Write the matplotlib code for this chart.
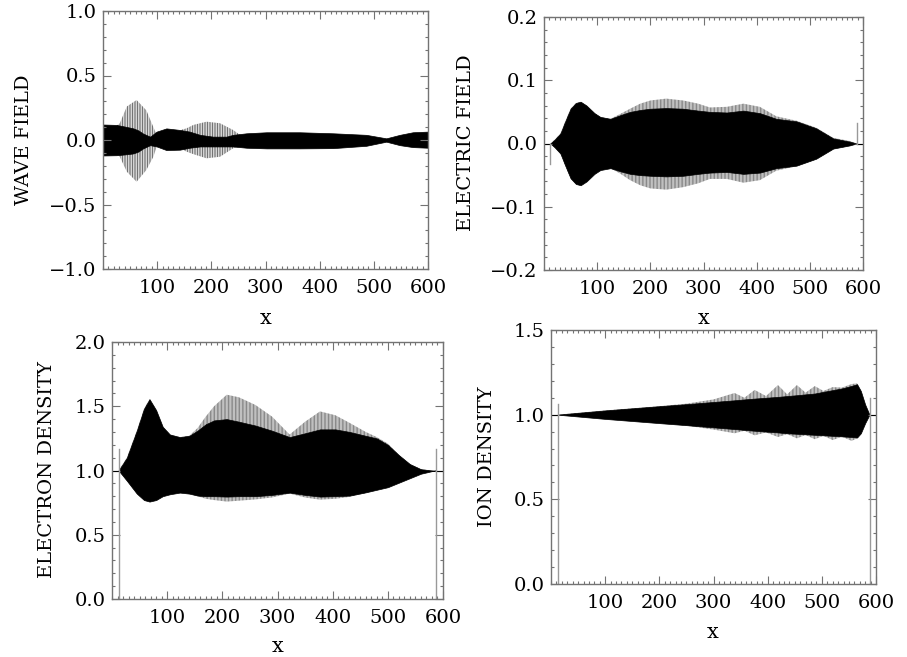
import matplotlib
matplotlib.use("Agg")
import matplotlib.pyplot as plt
from matplotlib.ticker import MultipleLocator

plt.rcParams['font.family'] = ['DejaVu Serif']
plt.rcParams['hatch.linewidth'] = 0.6

# ---------------- data: envelopes of the oscillating fields ----------------
# Wave field: dense central band and two wave packets
wave_x = [0, 25, 45, 56, 65, 74, 87, 99, 117, 142, 160, 179, 203, 228, 240,
          265, 302, 363, 425, 486, 523, 548, 572, 600]
wave_core_hi = [0.12, 0.117, 0.10, 0.09, 0.075, 0.05, 0.026, 0.065, 0.09, 0.078,
                0.065, 0.04, 0.026, 0.026, 0.04, 0.052, 0.06, 0.06, 0.052, 0.04,
                0.013, 0.04, 0.06, 0.065]
wave_core_lo = [-0.12, -0.118, -0.11, -0.104, -0.09, -0.065, -0.04, -0.05, -0.078,
                -0.075, -0.06, -0.05, -0.05, -0.05, -0.05, -0.06, -0.065, -0.065,
                -0.063, -0.045, -0.013, -0.04, -0.055, -0.06]
packet1_x = [25, 31, 44, 62, 80, 93, 100]
packet1_hi = [0.11, 0.13, 0.26, 0.31, 0.23, 0.10, 0.03]
packet1_lo = [-0.11, -0.13, -0.246, -0.324, -0.233, -0.13, -0.04]
packet2_x = [145, 154, 167, 191, 216, 240, 253, 262]
packet2_hi = [0.08, 0.09, 0.117, 0.142, 0.13, 0.078, 0.04, 0.03]
packet2_lo = [-0.07, -0.09, -0.11, -0.142, -0.13, -0.065, -0.045, -0.04]

# Electric field
ef_x = [12, 20, 31, 40, 50, 60, 69, 80, 95, 106, 125, 144, 162, 181, 200, 230,
        262, 290, 312, 344, 375, 406, 437, 475, 512, 544, 575, 588]
ef_core_hi = [0, 0.006, 0.016, 0.035, 0.055, 0.064, 0.066, 0.06, 0.048, 0.042,
              0.039, 0.045, 0.05, 0.053, 0.055, 0.056, 0.055, 0.052, 0.05, 0.049,
              0.052, 0.048, 0.039, 0.035, 0.024, 0.008, 0.003, 0.0]
ef_core_lo = [0, -0.006, -0.016, -0.035, -0.055, -0.064, -0.066, -0.06, -0.048,
              -0.042, -0.039, -0.044, -0.048, -0.05, -0.051, -0.052, -0.051,
              -0.048, -0.046, -0.045, -0.048, -0.046, -0.039, -0.035, -0.024,
              -0.008, -0.003, 0]
ef_env_hi = [0, 0.006, 0.016, 0.035, 0.055, 0.064, 0.066, 0.06, 0.048, 0.042,
             0.039, 0.047, 0.055, 0.063, 0.068, 0.071, 0.068, 0.063, 0.057, 0.058,
             0.063, 0.058, 0.043, 0.036, 0.025, 0.009, 0.004, 0]
ef_env_lo = [0, -0.006, -0.016, -0.035, -0.055, -0.064, -0.066, -0.06, -0.048,
             -0.042, -0.039, -0.048, -0.058, -0.066, -0.071, -0.073, -0.069,
             -0.063, -0.056, -0.056, -0.062, -0.058, -0.043, -0.036, -0.025,
             -0.009, -0.004, 0]

# Electron density
ne_x = [12, 27, 45, 58, 68, 80, 92, 105, 123, 140, 155, 170, 185, 208, 230, 260,
        290, 322, 350, 377, 405, 431, 460, 480, 500, 520, 540, 560, 580, 588]
ne_core_hi = [1.0, 1.10, 1.31, 1.48, 1.555, 1.47, 1.34, 1.28, 1.26, 1.27, 1.31,
              1.36, 1.39, 1.40, 1.38, 1.35, 1.31, 1.26, 1.29, 1.32, 1.32, 1.30,
              1.27, 1.25, 1.20, 1.12, 1.05, 1.01, 1.0, 1.0]
ne_env_hi = [1.0, 1.10, 1.31, 1.48, 1.555, 1.47, 1.34, 1.28, 1.26, 1.27, 1.33,
             1.42, 1.50, 1.59, 1.57, 1.51, 1.42, 1.28, 1.38, 1.46, 1.43, 1.37,
             1.30, 1.26, 1.21, 1.12, 1.05, 1.01, 1.0, 1.0]
ne_core_lo = [1.0, 0.92, 0.82, 0.77, 0.758, 0.77, 0.80, 0.815, 0.828, 0.82, 0.805,
              0.80, 0.80, 0.797, 0.80, 0.80, 0.81, 0.828, 0.81, 0.797, 0.80, 0.805,
              0.83, 0.85, 0.87, 0.905, 0.94, 0.975, 0.995, 1.0]
ne_env_lo = [1.0, 0.92, 0.82, 0.77, 0.758, 0.77, 0.80, 0.815, 0.828, 0.82, 0.80,
             0.78, 0.77, 0.758, 0.765, 0.775, 0.79, 0.82, 0.79, 0.773, 0.78, 0.795,
             0.825, 0.85, 0.87, 0.905, 0.94, 0.975, 0.995, 1.0]

# Ion density
ni_x = [12, 100, 200, 250, 300, 339, 357, 376, 397, 419, 436, 454, 470, 487, 503,
        520, 537, 555, 565, 572, 580, 588]
ni_core_hi = [1.0, 1.025, 1.05, 1.062, 1.075, 1.085, 1.09, 1.095, 1.10, 1.105, 1.11,
              1.115, 1.12, 1.125, 1.135, 1.145, 1.155, 1.17, 1.18, 1.14, 1.06, 1.0]
ni_env_hi = [1.0, 1.025, 1.05, 1.065, 1.09, 1.128, 1.10, 1.146, 1.11, 1.175, 1.12,
             1.175, 1.13, 1.169, 1.14, 1.163, 1.16, 1.181, 1.185, 1.14, 1.06, 1.0]
ni_core_lo = [1.0, 0.975, 0.95, 0.938, 0.925, 0.915, 0.91, 0.905, 0.90, 0.895, 0.89,
              0.887, 0.884, 0.881, 0.878, 0.875, 0.872, 0.868, 0.865, 0.89, 0.95, 1.0]
ni_env_lo = [1.0, 0.975, 0.95, 0.935, 0.912, 0.89, 0.905, 0.878, 0.895, 0.868, 0.885,
             0.86, 0.88, 0.855, 0.875, 0.85, 0.87, 0.845, 0.86, 0.89, 0.95, 1.0]

# boundary markers: (x position, start value, end value)
ef_marks = [(12, 0.0, -0.032), (588, 0.0, 0.032)]
ne_marks = [(12, 0.0, 1.164), (588, 0.0, 1.165)]
ni_marks = [(12, 0.0, 1.063), (588, 0.0, 1.097)]

x_ticks = [100, 200, 300, 400, 500, 600]
wave_yticks = [-1.0, -0.5, 0.0, 0.5, 1.0]
ef_yticks = [-0.2, -0.1, 0.0, 0.1, 0.2]
ne_yticks = [0.0, 0.5, 1.0, 1.5, 2.0]
ni_yticks = [0.0, 0.5, 1.0, 1.5]

# ---------------- figure ----------------
W, H = 907, 657
fig = plt.figure(figsize=(W / 100, H / 100), dpi=100)
FS = 14
FRAME = '0.45'


def px_axes(l, t, r, b):
    return fig.add_axes([l / W, 1 - b / H, (r - l) / W, (b - t) / H])


def style(ax, ylim, yticks, yminor, ylabel, ylab_px, xlab_px):
    ax.set_xlim(0, 600)
    ax.set_ylim(*ylim)
    ax.set_xticks(x_ticks)
    ax.set_xticklabels([str(v) for v in x_ticks])
    ax.set_yticks(yticks)
    ax.set_yticklabels([f"{v:.1f}".replace('-', '\u2212') for v in yticks])
    ax.xaxis.set_minor_locator(MultipleLocator(10))
    ax.yaxis.set_minor_locator(MultipleLocator(yminor))
    ax.tick_params(which='both', direction='in', top=True, right=True,
                   color=FRAME, width=0.8, labelsize=FS)
    ax.tick_params(which='major', length=5.5)
    ax.tick_params(which='minor', length=2.5)
    ax.tick_params(axis='x', pad=7)
    ax.tick_params(axis='y', pad=4.5)
    for s in ax.spines.values():
        s.set_color(FRAME)
        s.set_linewidth(1.0)
    fig.text(ylab_px[0] / W, 1 - ylab_px[1] / H, ylabel, rotation=90,
             ha='center', va='center', fontsize=FS)
    fig.text(xlab_px[0] / W, 1 - xlab_px[1] / H, 'x', ha='center', va='center',
             fontsize=FS + 1)


def envelope(ax, x, core_lo, core_hi, env_lo=None, env_hi=None):
    if env_lo is not None:
        ax.fill_between(x, env_lo, env_hi, facecolor='none', edgecolor='0.45',
                        hatch='|' * 12, linewidth=0)
    ax.fill_between(x, core_lo, core_hi, facecolor='black', edgecolor='black',
                    linewidth=0.5)


def markers(ax, marks, base):
    ax.plot([0, marks[0][0]], [base, base], color='black', lw=0.8)
    ax.plot([marks[1][0], 600], [base, base], color='black', lw=0.8)
    for xm, y0, y1 in marks:
        ax.plot([xm, xm], [y0, y1], color='0.6', lw=1.0)


# Wave field
ax1 = px_axes(103, 11, 428, 269)
for px, lo, hi in [(packet1_x, packet1_lo, packet1_hi), (packet2_x, packet2_lo, packet2_hi)]:
    ax1.fill_between(px, lo, hi, facecolor='none', edgecolor='0.35',
                     hatch='|' * 10, linewidth=0)
envelope(ax1, wave_x, wave_core_lo, wave_core_hi)
style(ax1, (-1.0, 1.0), wave_yticks, 0.1, 'WAVE FIELD', (24, 140), (266, 319))

# Electric field
ax2 = px_axes(544, 17, 863, 270)
markers(ax2, ef_marks, 0.0)
envelope(ax2, ef_x, ef_core_lo, ef_core_hi, ef_env_lo, ef_env_hi)
style(ax2, (-0.2, 0.2), ef_yticks, 0.02, 'ELECTRIC FIELD', (466, 143), (704, 319))

# Electron density
ax3 = px_axes(112, 342, 443, 599)
markers(ax3, ne_marks, 1.0)
envelope(ax3, ne_x, ne_core_lo, ne_core_hi, ne_env_lo, ne_env_hi)
style(ax3, (0.0, 2.0), ne_yticks, 0.1, 'ELECTRON DENSITY', (47, 470), (278, 646))

# Ion density
ax4 = px_axes(551, 330, 876, 584)
markers(ax4, ni_marks, 1.0)
envelope(ax4, ni_x, ni_core_lo, ni_core_hi, ni_env_lo, ni_env_hi)
style(ax4, (0.0, 1.5), ni_yticks, 0.1, 'ION DENSITY', (487, 457), (713, 632))

fig.savefig('out.png', dpi=100)
